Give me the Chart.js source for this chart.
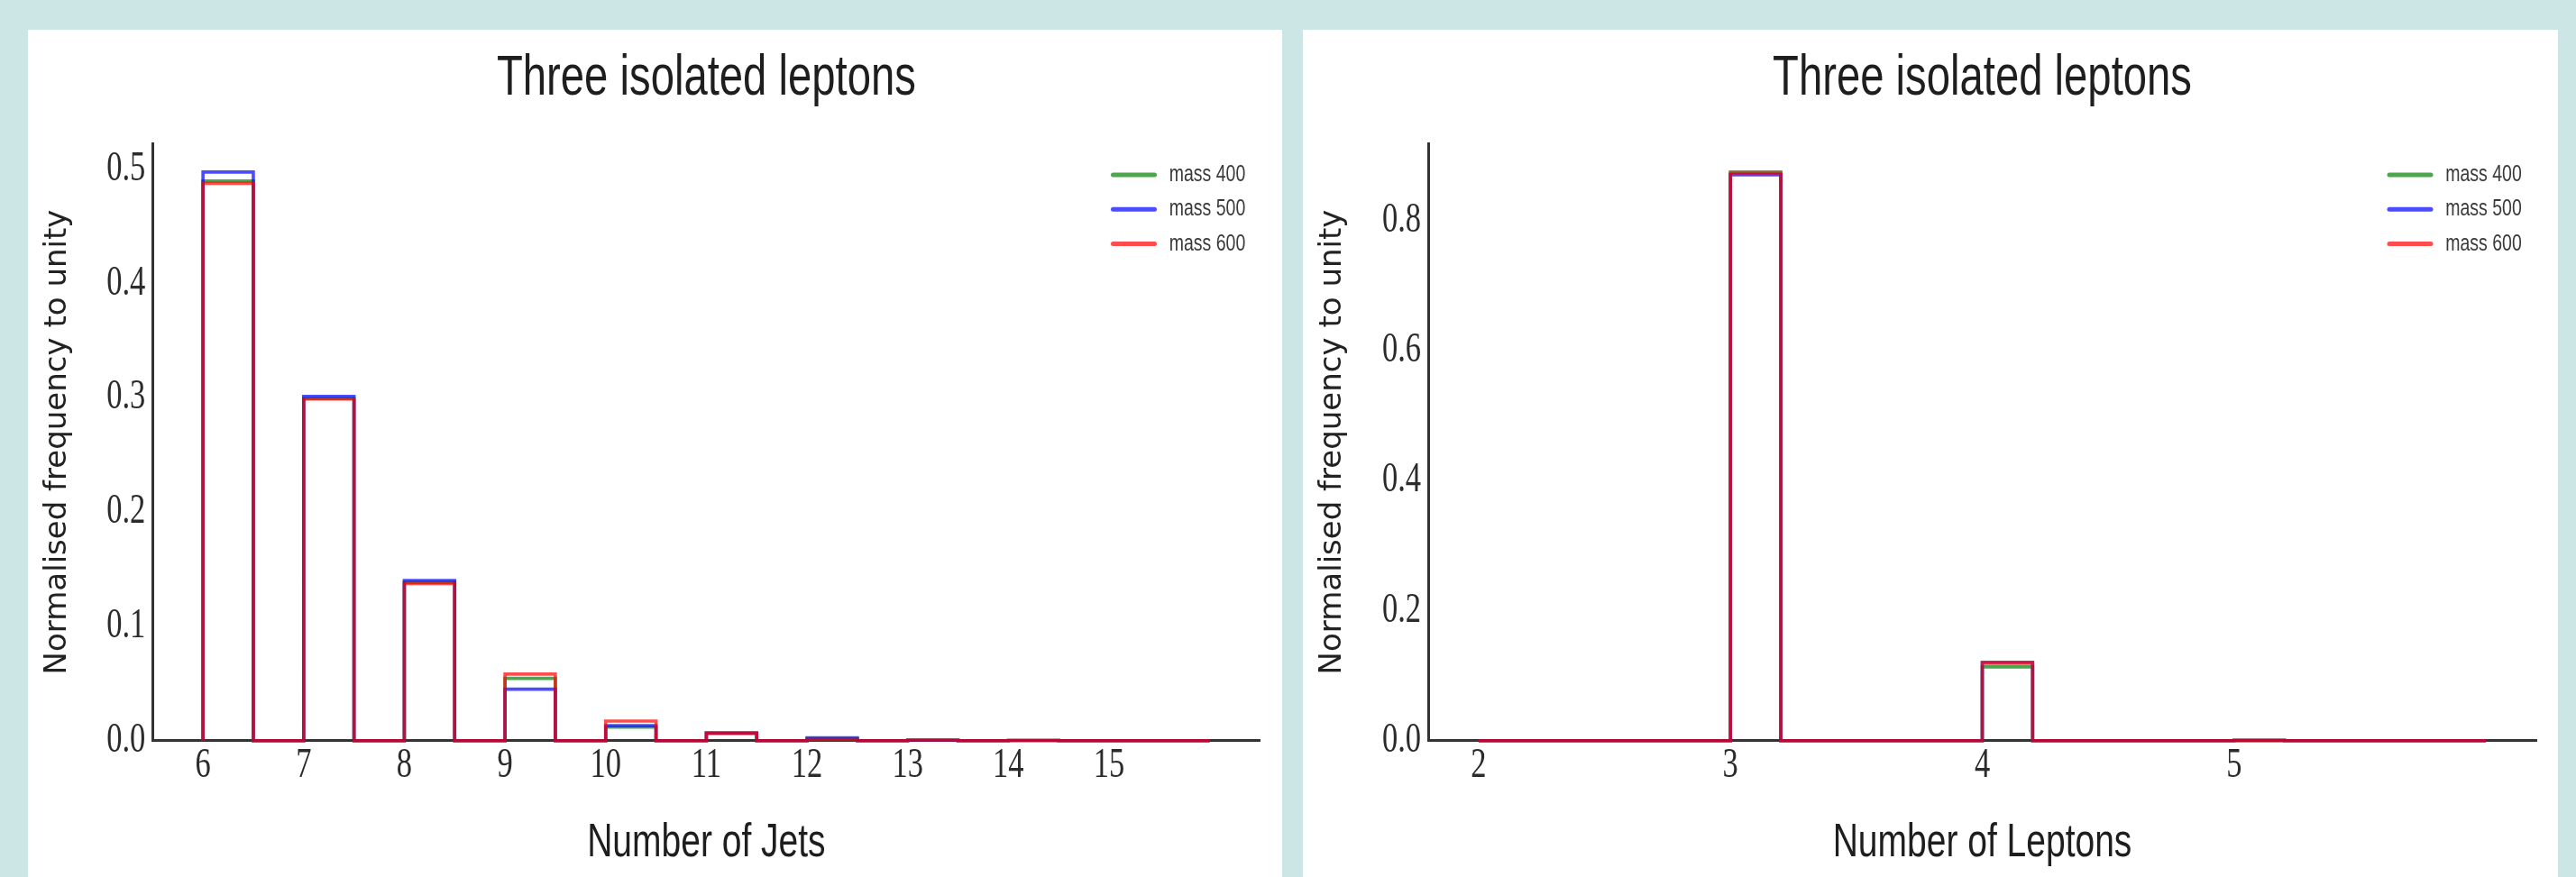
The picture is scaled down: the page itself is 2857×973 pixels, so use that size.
<!DOCTYPE html>
<html>
<head>
<meta charset="utf-8">
<script src="https://cdn.jsdelivr.net/npm/chart.js@4.4.1/dist/chart.umd.min.js"></script>
<style>
  html, body { margin: 0; padding: 0; }
  body { width: 2857px; height: 973px; background: #cce5e5; position: relative; overflow: hidden; }
  .panel { position: absolute; top: 33px; height: 940px; background: #ffffff; }
  #panelJets { left: 31px; width: 1391px; }
  #panelLeptons { left: 1445px; width: 1392px; }
  canvas { display: block; }
</style>
</head>
<body>
<div class="panel" id="panelJets"><canvas id="jetsChart" width="1391" height="940"></canvas></div>
<div class="panel" id="panelLeptons"><canvas id="leptonsChart" width="1392" height="940"></canvas></div>
<script>
// ---- data -------------------------------------------------------------
const seriesLabels = ['mass 400', 'mass 500', 'mass 600'];

// Number of jets: each count fills the bin [n, n + 0.5)
const jetCounts   = [6, 7, 8, 9, 10, 11, 12, 13, 14, 15];
const jetMass400  = [0.4897, 0.2995, 0.1385, 0.0545, 0.0118, 0.0066, 0.0015, 0.0004, 0.0001, 0.0];
const jetMass500  = [0.4976, 0.3013, 0.1402, 0.0450, 0.0132, 0.0066, 0.0024, 0.0003, 0.0001, 0.0];
const jetMass600  = [0.4877, 0.2989, 0.1374, 0.0582, 0.0171, 0.0066, 0.0010, 0.0006, 0.0001, 0.0];
const jetBins     = [6, 16, 0.5];            // first edge, last edge, bin width
const jetXTicks   = [6, 7, 8, 9, 10, 11, 12, 13, 14, 15];
const jetYTicks   = [0.0, 0.1, 0.2, 0.3, 0.4, 0.5];

// Number of leptons: each count fills the bin [n, n + 0.2)
const leptonCounts  = [2, 3, 4, 5];
const leptonMass400 = [0.0, 0.8746, 0.1135, 0.0];
const leptonMass500 = [0.0, 0.8704, 0.1205, 0.001];
const leptonMass600 = [0.0, 0.8725, 0.1190, 0.0];
const leptonBins    = [2, 6, 0.2];
const leptonXTicks  = [2, 3, 4, 5];
const leptonYTicks  = [0.0, 0.2, 0.4, 0.6, 0.8];

// ---- style --------------------------------------------------------------
const seriesColors = ['rgba(0,128,0,0.7)', 'rgba(0,0,255,0.7)', 'rgba(255,0,0,0.7)'];
const CONDENSE = 0.75;   // horizontal squeeze applied to upright text

// Outline of a step histogram: start on the baseline, one point per bin, back to the baseline.
function stepOutline(counts, values, bins) {
  const [lo, hi, w] = bins;
  const n = Math.round((hi - lo) / w);
  const pts = [{ x: lo, y: 0 }];
  for (let i = 0; i < n; i++) {
    const edge = lo + i * w;
    const k = counts.findIndex(c => Math.abs(c - edge) < 1e-9);
    pts.push({ x: edge, y: k >= 0 ? values[k] : 0 });
  }
  pts.push({ x: hi, y: 0 });
  return pts;
}

// Upright labels are drawn narrow; rotated ones are left as they are.
function condenseText(ctx) {
  const baseFill = ctx.fillText;
  ctx.fillText = function (text, x, y, maxWidth) {
    const m = this.getTransform();
    if (Math.abs(m.b) > 1e-6 || Math.abs(m.c) > 1e-6) {
      return maxWidth == null ? baseFill.call(this, text, x, y) : baseFill.call(this, text, x, y, maxWidth);
    }
    this.save();
    this.translate(x, y);
    this.scale(CONDENSE, 1);
    if (maxWidth == null) baseFill.call(this, text, 0, 0);
    else baseFill.call(this, text, 0, 0, maxWidth / CONDENSE);
    this.restore();
  };
}

// Legend in the upper right corner of the plot area.
const cornerLegend = {
  id: 'cornerLegend',
  afterDraw(chart) {
    const { ctx, chartArea } = chart;
    ctx.save();
    ctx.lineCap = 'round';
    ctx.lineWidth = 5;
    ctx.font = '26px "Liberation Sans"';
    ctx.textAlign = 'left';
    ctx.textBaseline = 'middle';
    chart.data.datasets.forEach((ds, i) => {
      const y = chartArea.top + 34.7 + i * 38.2;
      ctx.strokeStyle = ds.borderColor;
      ctx.beginPath();
      ctx.moveTo(chartArea.right - 163, y);
      ctx.lineTo(chartArea.right - 117, y);
      ctx.stroke();
      ctx.fillStyle = '#3a3a3a';
      ctx.fillText(ds.label, chartArea.right - 100.8, y);
    });
    ctx.restore();
  }
};

function histChart(canvasId, cfg) {
  const canvas = document.getElementById(canvasId);
  const ctx = canvas.getContext('2d');
  condenseText(ctx);
  const [lo, hi] = cfg.bins;
  const margin = 0.05 * (hi - lo);
  const allValues = [].concat(...cfg.series);
  const yMax = 1.05 * Math.max(...allValues);
  const tickFont = { family: '"Liberation Serif"', size: 46 };

  return new Chart(ctx, {
    type: 'line',
    data: {
      datasets: cfg.series.map((vals, i) => ({
        label: seriesLabels[i],
        data: stepOutline(cfg.counts, vals, cfg.bins),
        borderColor: seriesColors[i],
        backgroundColor: seriesColors[i],
        borderWidth: 3.6,
        borderJoinStyle: 'miter',
        borderCapStyle: 'butt',
        stepped: 'before',
        pointRadius: 0,
        pointHoverRadius: 0,
        fill: false,
        tension: 0,
        clip: false,
        order: cfg.series.length - 1 - i
      }))
    },
    options: {
      responsive: false,
      animation: false,
      devicePixelRatio: 1,
      events: [],
      layout: { padding: { left: 0, right: cfg.rightPad, top: 0, bottom: 0 } },
      plugins: {
        legend: { display: false },
        tooltip: { enabled: false },
        title: {
          display: true,
          text: 'Three isolated leptons',
          fullSize: false,
          color: '#1e1e1e',
          font: { family: '"Liberation Sans"', size: 63, weight: 'normal' },
          padding: { top: 16.5, bottom: 34.2 }
        }
      },
      scales: {
        x: {
          type: 'linear',
          min: lo - margin,
          max: hi + margin,
          z: 1,
          afterBuildTicks: s => { s.ticks = cfg.xTicks.map(v => ({ value: v })); },
          afterFit: s => { s.height = 151.3; },
          ticks: { font: tickFont, color: '#2b2b2b', padding: 1, autoSkip: false, maxRotation: 0,
                   callback: v => String(v) },
          grid: { color: 'rgba(0,0,0,0)', drawTicks: false },
          border: { display: true, color: '#333333', width: 3 },
          title: { display: true, text: cfg.xTitle, color: '#1e1e1e',
                   font: { family: '"Liberation Sans"', size: 52 },
                   padding: { top: 0, bottom: 6 } }
        },
        y: {
          type: 'linear',
          min: 0,
          max: yMax,
          afterBuildTicks: s => { s.ticks = cfg.yTicks.map(v => ({ value: v })); },
          afterFit: s => { s.width = cfg.leftWidth; },
          ticks: { font: tickFont, color: '#2b2b2b', padding: 8, callback: v => v.toFixed(1) },
          grid: { color: 'rgba(0,0,0,0)', drawTicks: false },
          border: { display: true, color: '#333333', width: 3 },
          title: { display: true, text: 'Normalised frequency to unity', color: '#222222',
                   font: { family: '"DejaVu Sans"', size: 34 },
                   padding: { top: 12.6, bottom: 0 } }
        }
      }
    },
    plugins: [cornerLegend]
  });
}

histChart('jetsChart', {
  counts: jetCounts,
  series: [jetMass400, jetMass500, jetMass600],
  bins: jetBins,
  xTicks: jetXTicks,
  yTicks: jetYTicks,
  xTitle: 'Number of Jets',
  leftWidth: 138.3,
  rightPad: 24.5
});

histChart('leptonsChart', {
  counts: leptonCounts,
  series: [leptonMass400, leptonMass500, leptonMass600],
  bins: leptonBins,
  xTicks: leptonXTicks,
  yTicks: leptonYTicks,
  xTitle: 'Number of Leptons',
  leftWidth: 139,
  rightPad: 24
});
</script>
</body>
</html>
